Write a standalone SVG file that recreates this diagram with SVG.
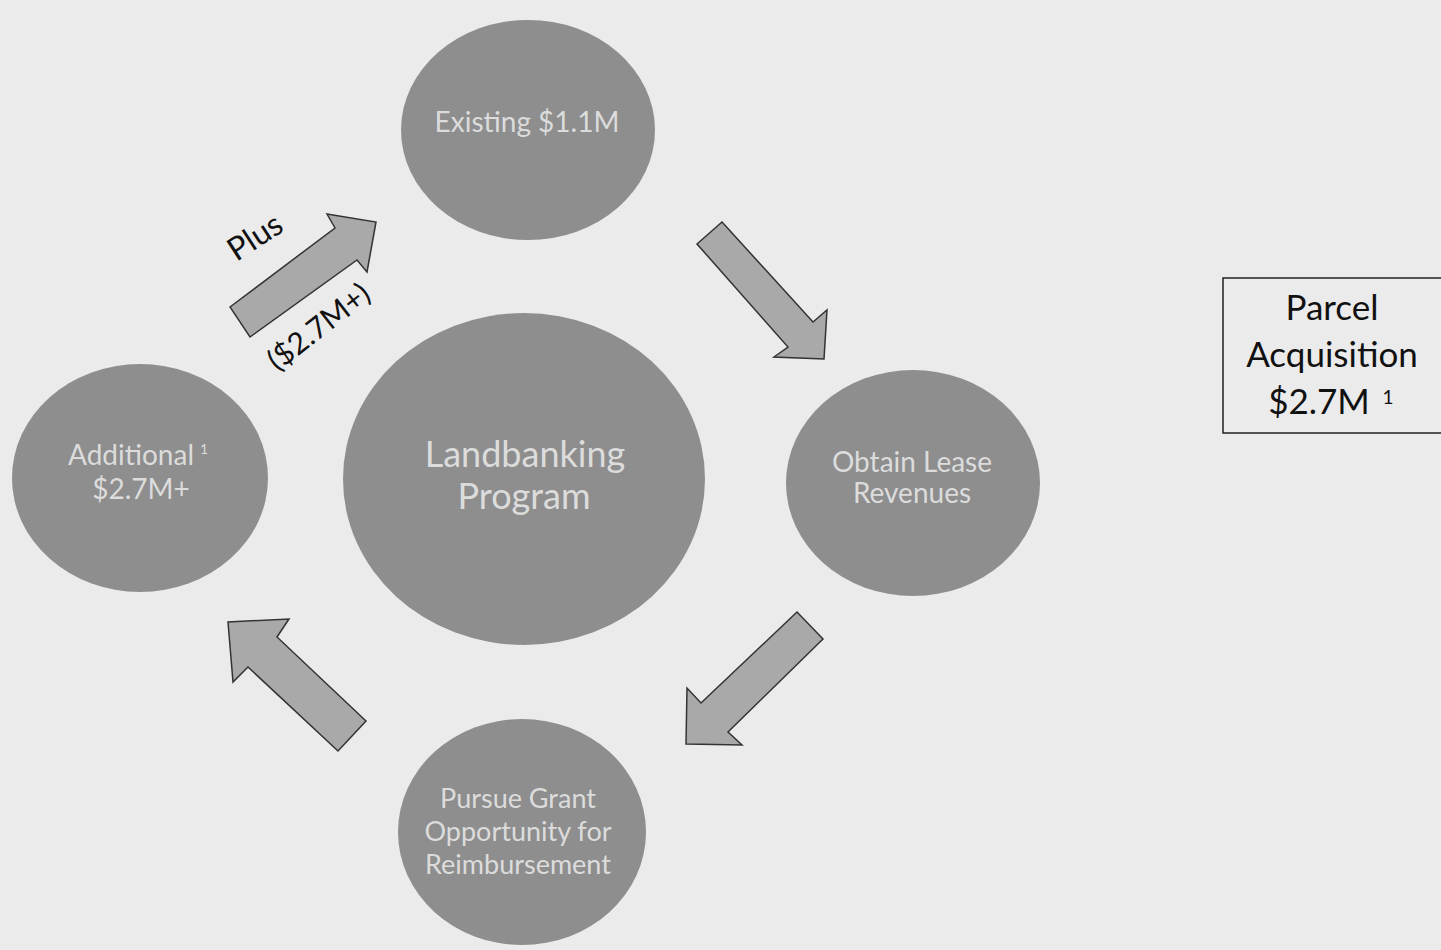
<svg xmlns="http://www.w3.org/2000/svg" width="1441" height="950" viewBox="0 0 1441 950">
<defs>
<style>
.bg{fill:#ebebeb}
.node ellipse{fill:#8e8e8e}
.nt{font-family:Lato,"Open Sans","Liberation Sans",sans-serif;fill:#dcdcdc;text-anchor:middle}
.arrow{fill:#a9a9a9;stroke:#333;stroke-width:1.5;stroke-linejoin:miter}
.lbl{font-family:Lato,"Open Sans","Liberation Sans",sans-serif;fill:#111;text-anchor:middle}
.box{fill:none;stroke:#222;stroke-width:1.5}
</style>
</defs>
<rect class="bg" x="0" y="0" width="1441" height="950"/>
<g id="connectors">
<polygon class="arrow" points="230,307 335,228 327,214 376,222 367,272 357,260 250,337"/>
<polygon class="arrow" points="722,222 813,322 827,310 824,359 774,357 788,347 697,244"/>
<polygon class="arrow" points="797,612 823,639 728,732 742,745 686,744 687,688 701,703"/>
<polygon class="arrow" points="366,721 277,637 289,619 228,622 233,682 248,667 338,751"/>
<text class="lbl" font-size="32" transform="translate(261,246) rotate(-33)">Plus</text>
<text class="lbl" font-size="30" transform="translate(325,335) rotate(-38)">($2.7M+)</text>
</g>
<g id="existing" class="node">
<ellipse cx="528" cy="130" rx="127" ry="110"/>
<text class="nt" x="527" y="132" font-size="28">Existing $1.1M</text>
</g>
<g id="landbanking" class="node">
<ellipse cx="524" cy="479" rx="181" ry="166"/>
<text class="nt" x="525" y="467" font-size="36">Landbanking</text>
<text class="nt" x="524" y="509" font-size="36">Program</text>
</g>
<g id="additional" class="node">
<ellipse cx="140" cy="478" rx="128" ry="114"/>
<text class="nt" x="131" y="465" font-size="28">Additional</text>
<text class="nt" x="204" y="454" font-size="14">1</text>
<text class="nt" x="141" y="499" font-size="28">$2.7M+</text>
</g>
<g id="lease" class="node">
<ellipse cx="913" cy="483" rx="127" ry="113"/>
<text class="nt" x="912" y="472" font-size="28">Obtain Lease</text>
<text class="nt" x="912" y="503" font-size="28">Revenues</text>
</g>
<g id="grant" class="node">
<ellipse cx="522" cy="832" rx="124" ry="113"/>
<text class="nt" x="518" y="808" font-size="27">Pursue Grant</text>
<text class="nt" x="518" y="841" font-size="27">Opportunity for</text>
<text class="nt" x="518" y="874" font-size="27">Reimbursement</text>
</g>
<g id="parcel">
<rect class="box" x="1223" y="278" width="230" height="155"/>
<text class="lbl" x="1332" y="320" font-size="35">Parcel</text>
<text class="lbl" x="1332" y="367" font-size="35">Acquisition</text>
<text class="lbl" x="1319" y="414" font-size="35">$2.7M</text>
<text class="lbl" x="1388" y="404" font-size="19">1</text>
</g>
</svg>
